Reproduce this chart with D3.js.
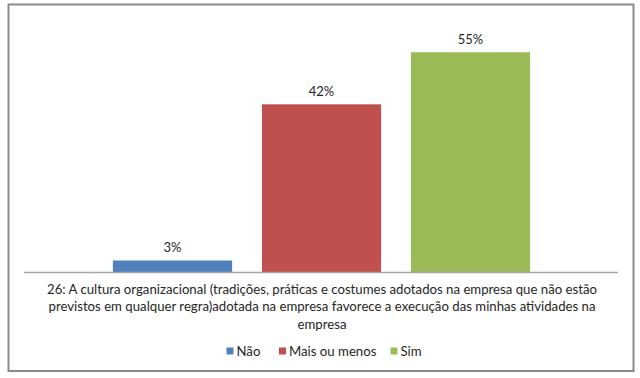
<!DOCTYPE html>
<html><head><meta charset="utf-8">
<script src="https://cdn.jsdelivr.net/npm/d3@7"></script>
<style>body{margin:0;background:#fff}text{font-family:Lato,"Open Sans",sans-serif;fill:#262626}</style>
</head><body><svg id="c" width="640" height="378"></svg>
<script>
const series = ["Não", "Mais ou menos", "Sim"];
const values = [3, 42, 55];
const colors = ["#4F81BD", "#C0504D", "#9BBB59"];
const categoryLines = [
  "26: A cultura organizacional (tradições, práticas e costumes adotados na empresa que não estão",
  "previstos em qualquer regra)adotada na empresa favorece a execução das minhas atividades na",
  "empresa"
];

const svg = d3.select("#c");
svg.append("rect").attr("x",8.5).attr("y",4.5).attr("width",625).attr("height",366.5)
  .attr("fill","#fff").attr("stroke","#8a8a8a").attr("stroke-width",2);

const x = d3.scaleBand().domain(series).range([98,545]).paddingInner(0.2).paddingOuter(0.1);
const y = d3.scaleLinear().domain([0,60]).range([272.5,32.2]);

svg.selectAll("rect.bar").data(values).join("rect").attr("class","bar")
  .attr("x",(d,i)=>x(series[i])).attr("width",x.bandwidth())
  .attr("y",d=>y(d)).attr("height",d=>y(0)-y(d))
  .attr("fill",(d,i)=>colors[i]);

svg.append("line").attr("x1",24).attr("x2",618).attr("y1",272.5).attr("y2",272.5)
  .attr("stroke","#a6a6a6").attr("stroke-width",1.3);

svg.selectAll("text.lab").data(values).join("text").attr("class","lab")
  .attr("x",(d,i)=>x(series[i])+x.bandwidth()/2).attr("y",d=>y(d)-8)
  .attr("text-anchor","middle").attr("font-size",13)
  .text(d=>d3.format(".0%")(d/100));

const cat = svg.append("g");
categoryLines.forEach((t,i)=>{
  cat.append("text").attr("x",322).attr("y",294+i*17.3).attr("text-anchor","middle")
    .attr("font-size",13.2).text(t);
});

const leg = svg.append("g");
const legX = [226.5, 279, 390.5];
series.forEach((s,i)=>{
  leg.append("rect").attr("x",legX[i]).attr("y",347.5).attr("width",7).attr("height",7).attr("fill",colors[i]);
  leg.append("text").attr("x",legX[i]+10).attr("y",355.5).attr("font-size",13.2).text(s);
});
</script></body></html>
